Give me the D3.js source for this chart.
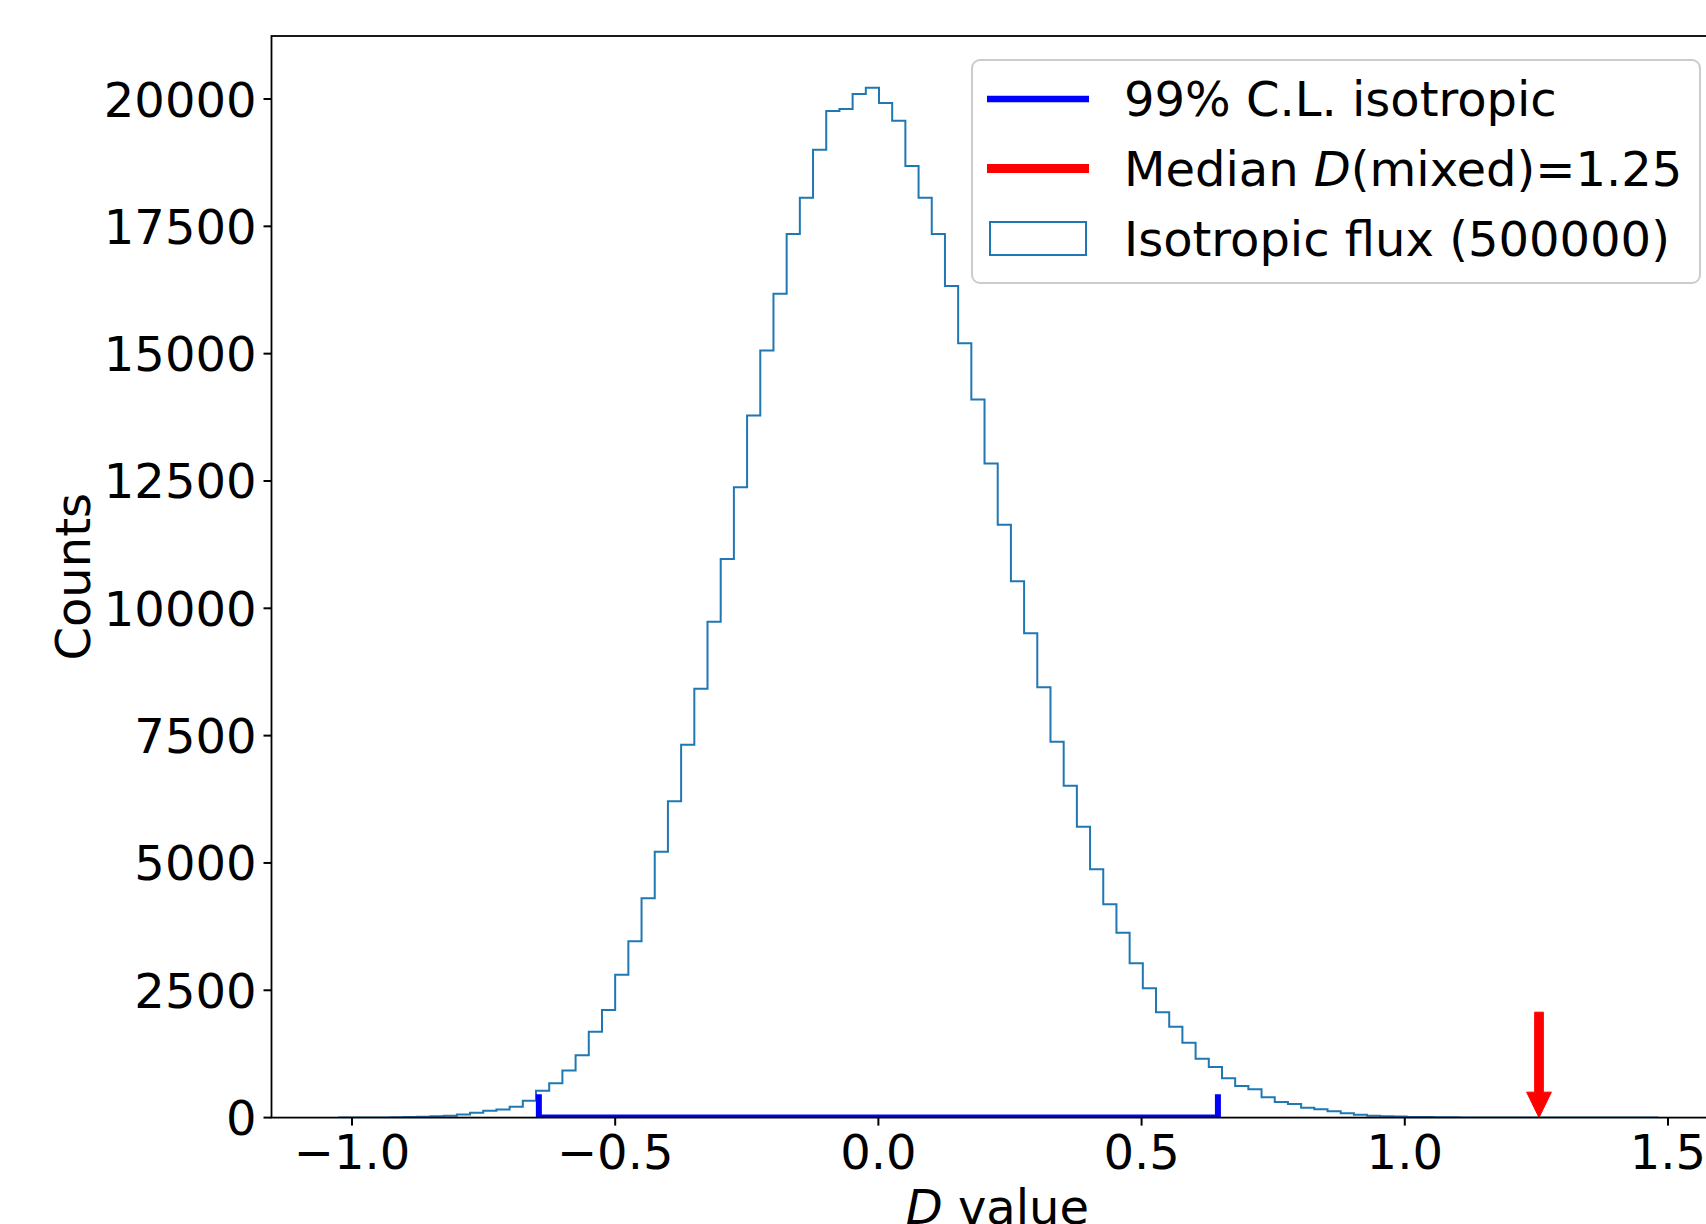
<!DOCTYPE html>
<html><head><meta charset="utf-8">
<script src="https://cdn.jsdelivr.net/npm/d3@7"></script>
<style>
body{margin:0;background:#fff}
svg{display:block}
text{font-family:"DejaVu Sans",sans-serif;fill:#000}
</style>
</head><body>
<svg id="chart" width="1706" height="1224"></svg>
<script>
// ---- data ----
const binStart = -1.0263;   // first bin edge
const binWidth = 0.02506;   // 100 equal bins
const counts = [
  0, 0, 1, 3, 6, 12, 18, 27, 38, 62,
  95, 134, 160, 213, 330, 527, 675, 925, 1223, 1687,
  2113, 2806, 3461, 4305, 5221, 6210, 7320, 8422, 9737, 10967,
  12375, 13785, 15061, 16177, 17348, 18061, 19004, 19763, 19802, 20097,
  20221, 19920, 19573, 18683, 18061, 17348, 16327, 15202, 14099, 12842,
  11641, 10529, 9508, 8448, 7381, 6517, 5712, 4874, 4187, 3631,
  3029, 2538, 2067, 1785, 1471, 1157, 993, 773, 620, 555,
  398, 306, 267, 194, 163, 124, 84, 56, 38, 28,
  20, 14, 10, 7, 5, 3, 2, 1, 1, 0,
  0, 1, 0, 0, 0, 0, 0, 0, 0, 1
];
const xTicks = [-1.0, -0.5, 0.0, 0.5, 1.0, 1.5];
const yTicks = [0, 2500, 5000, 7500, 10000, 12500, 15000, 17500, 20000];
const clBound = 0.645;        // 99% C.L. isotropic bound (symmetric)
const clMarkHeight = 460;     // height of end markers (counts)
const medianD = 1.255;        // median D(mixed)
const arrowTop = 2070, arrowHeadLen = 500, arrowWidth = 0.0165, arrowHeadWidth = 0.047;
const legendItems = [
  {type: "line", color: "#0000ff", label: ["99% C.L. isotropic"]},
  {type: "line", color: "#ff0000", label: ["Median ", "D", "(mixed)=1.25"]},
  {type: "rect", color: "#1f77b4", label: ["Isotropic flux (500000)"]}
];
const xLabel = ["D", " value"];
const yLabel = "Counts";

// ---- layout ----
const L = 271.5, R = 1723.2, T = 36, B = 1117.6;
const svg = d3.select("#chart");
const x = d3.scaleLinear().domain([-1.1529, 1.6049]).range([L, R]);
const y = d3.scaleLinear().domain([0, 21237]).range([B, T]);
const FS = 48;

svg.append("defs").append("clipPath").attr("id", "ax")
  .append("rect").attr("x", L).attr("y", T).attr("width", R - L).attr("height", B - T);
const plot = svg.append("g").attr("clip-path", "url(#ax)");

// histogram step outline
const pts = [[binStart, 0]];
counts.forEach((c, i) => {
  pts.push([binStart + i * binWidth, c]);
  pts.push([binStart + (i + 1) * binWidth, c]);
});
pts.push([binStart + counts.length * binWidth, 0]);
plot.append("path")
  .attr("d", d3.line().x(d => x(d[0])).y(d => y(d[1]))(pts))
  .attr("fill", "none").attr("stroke", "#1f77b4").attr("stroke-width", 2);

// 99% C.L. bracket
const cl = [[-clBound, clMarkHeight], [-clBound, 0], [clBound, 0], [clBound, clMarkHeight]];
plot.append("path")
  .attr("d", d3.line().x(d => x(d[0])).y(d => y(d[1]))(cl))
  .attr("fill", "none").attr("stroke", "#0000ff").attr("stroke-width", 6)
  .attr("stroke-linejoin", "miter");

// median arrow
const hw = arrowWidth / 2, hh = arrowHeadWidth / 2;
const arrowPts = [
  [medianD - hw, arrowTop], [medianD + hw, arrowTop], [medianD + hw, arrowHeadLen],
  [medianD + hh, arrowHeadLen], [medianD, 0], [medianD - hh, arrowHeadLen], [medianD - hw, arrowHeadLen]
];
plot.append("path")
  .attr("d", d3.line().x(d => x(d[0])).y(d => y(d[1]))(arrowPts) + "Z")
  .attr("fill", "#ff0000").attr("stroke", "#ff0000").attr("stroke-width", 1);

// axes frame
svg.append("rect").attr("x", L).attr("y", T).attr("width", R - L).attr("height", B - T)
  .attr("fill", "none").attr("stroke", "#000").attr("stroke-width", 1.8);

// x axis
const fmtX = d3.format(".1f");
const gx = svg.append("g");
xTicks.forEach(t => {
  gx.append("line").attr("x1", x(t)).attr("x2", x(t)).attr("y1", B).attr("y2", B + 8)
    .attr("stroke", "#000").attr("stroke-width", 2);
  gx.append("text").attr("x", x(t)).attr("y", 1169).attr("text-anchor", "middle")
    .attr("font-size", FS).text(fmtX(t));
});
// y axis
const gy = svg.append("g");
yTicks.forEach(t => {
  gy.append("line").attr("x1", L - 8).attr("x2", L).attr("y1", y(t)).attr("y2", y(t))
    .attr("stroke", "#000").attr("stroke-width", 2);
  gy.append("text").attr("x", L - 15).attr("y", y(t) + 17.5).attr("text-anchor", "end")
    .attr("font-size", FS).text(String(t));
});

// axis labels
const xl = svg.append("text").attr("x", (L + R) / 2).attr("y", 1224).attr("text-anchor", "middle").attr("font-size", FS);
xl.append("tspan").attr("font-style", "italic").text(xLabel[0]);
xl.append("tspan").text(xLabel[1]);
svg.append("text").attr("transform", `translate(90,${(T + B) / 2}) rotate(-90)`)
  .attr("text-anchor", "middle").attr("font-size", FS).text(yLabel);

// legend
const lg = svg.append("g");
lg.append("rect").attr("x", 972).attr("y", 60).attr("width", 728).attr("height", 223)
  .attr("rx", 8).attr("ry", 8).attr("fill", "#fff").attr("fill-opacity", 0.8)
  .attr("stroke", "#cccccc").attr("stroke-width", 2);
const rowY = [99, 168.5, 238.5];
legendItems.forEach((it, i) => {
  const cy = rowY[i];
  if (it.type === "line") {
    lg.append("line").attr("x1", 987).attr("x2", 1089).attr("y1", cy).attr("y2", cy)
      .attr("stroke", it.color).attr("stroke-width", i === 0 ? 6.3 : 9);
  } else {
    lg.append("rect").attr("x", 990).attr("y", cy - 16.5).attr("width", 96).attr("height", 33)
      .attr("fill", "none").attr("stroke", it.color).attr("stroke-width", 2);
  }
  const tx = lg.append("text").attr("x", 1124).attr("y", cy + 17).attr("font-size", FS);
  it.label.forEach((s, k) => {
    const sp = tx.append("tspan").text(s);
    if (it.label.length > 1 && k === 1) sp.attr("font-style", "italic");
  });
});
</script>
</body></html>
